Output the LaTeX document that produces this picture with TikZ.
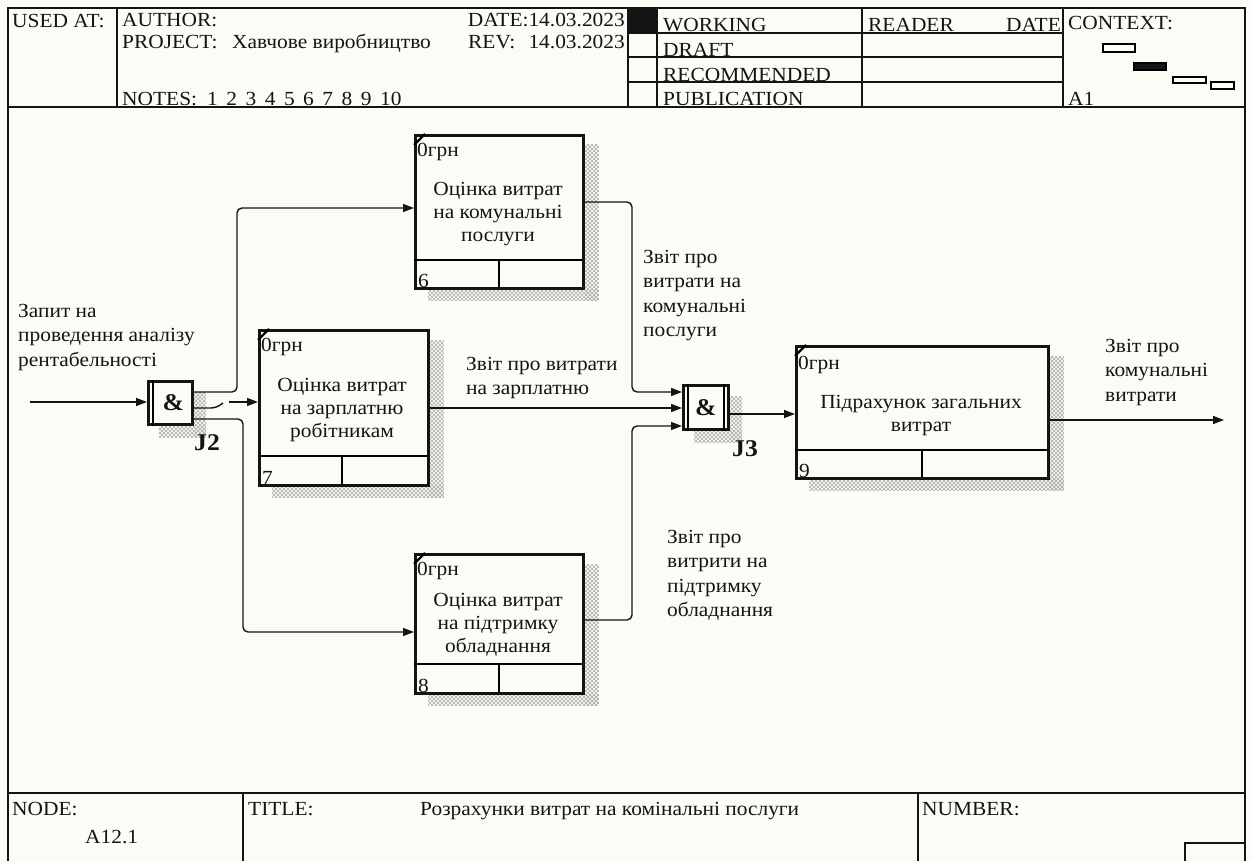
\documentclass[tikz,border=0pt]{standalone}
\usepackage{fontspec}
\setmainfont{Liberation Serif}[FakeStretch=1.07]
\usetikzlibrary{arrows.meta,patterns,calc}
\definecolor{bg}{RGB}{253,251,245}
\definecolor{ink}{RGB}{20,20,20}
\pgfdeclarepatternformonly{idefhatch}{\pgfpoint{-0.5pt}{-0.5pt}}{\pgfpoint{4.5pt}{4.5pt}}{\pgfpoint{4pt}{4pt}}{%
  \pgfsetlinewidth{0.7pt}%
  \pgfpathmoveto{\pgfpoint{0pt}{0pt}}\pgfpathlineto{\pgfpoint{4pt}{4pt}}%
  \pgfpathmoveto{\pgfpoint{0pt}{4pt}}\pgfpathlineto{\pgfpoint{4pt}{0pt}}%
  \pgfusepath{stroke}}
\newcommand\hatchshadow[3]{%
  \fill[hatch] ($(#1.north east)+(0,#3)$) rectangle ($(#1.south east)+(#2,#3)$);
  \fill[hatch] ($(#1.south west)+(#2,0)$) rectangle ($(#1.south east)+(#2,#3)$);}
\begin{document}
\begin{tikzpicture}[x=1pt,y=-1pt,
  every node/.style={font=\fontsize{20}{23}\selectfont, inner sep=0pt, text=ink},
  frame/.style={line width=1.5pt, draw=ink},
  abox/.style={draw=ink, line width=2.8pt, fill=bg, anchor=north west, inner sep=0pt},
  flow/.style={line width=1.4pt, draw=ink, rounded corners=5pt, -{Triangle[length=11pt,width=8pt]}},
  wire/.style={line width=1.4pt, draw=ink, rounded corners=5pt},
  hatch/.style={pattern=idefhatch, pattern color=gray!60},
  boxtext/.style={align=center, font=\fontsize{20}{23}\selectfont},
  lbl/.style={align=left, anchor=north west, font=\fontsize{20}{24.5}\selectfont},
  cost/.style={anchor=west},
  num/.style={anchor=base west},
  jbox/.style={draw=ink, line width=2.8pt, fill=bg, anchor=north west, inner sep=0pt, font=\fontsize{24}{24}\selectfont\bfseries},
  jlbl/.style={font=\fontsize{24}{24}\selectfont\bfseries},
  htext/.style={anchor=base west},
]
\fill[bg] (0,0) rectangle (1252,861);
\useasboundingbox (0,0) rectangle (1252,861);

% ---------- outer frame and header ----------
\draw[frame] (8,861) -- (8,8) -- (1245,8) -- (1245,861);
\draw[frame] (8,107) -- (1245,107);
\draw[frame] (117,8) -- (117,107);
\draw[frame] (628,8) -- (628,107);
\draw[frame] (657,8) -- (657,107);
\draw[frame] (862,8) -- (862,107);
\draw[frame] (1063,8) -- (1063,107);
\draw[frame] (628,33) -- (1063,33);
\draw[frame] (628,57) -- (1063,57);
\draw[frame] (628,82) -- (1063,82);
\fill[ink] (628,8) rectangle (657,33);

\node[htext] (usedat) at (12,28) {USED AT:};
\node[htext] (author) at (122,27) {AUTHOR:};
\node[htext] (project) at (122,49) {PROJECT:};
\node[htext] (projname) at (232,49) {Хавчове виробництво};
\node[htext] (notes) at (122,106) {NOTES:};
\foreach \d [count=\i from 0] in {1,2,3,4,5,6,7,8,9}{
  \node[htext] (note\d) at (207+19.2*\i,106) {\d};
}
\node[htext] (note10) at (380,106) {10};
\node[anchor=base east] (date) at (625,27) {DATE:14.03.2023};
\node[htext] (rev) at (468,49) {REV:};
\node[anchor=base east] (revdate) at (625,49) {14.03.2023};
\node[htext] (working) at (663,32) {WORKING};
\node[htext] (draft) at (663,57) {DRAFT};
\node[htext] (recom) at (663,82) {RECOMMENDED};
\node[htext] (publ) at (663,106) {PUBLICATION};
\node[htext] (reader) at (868,32) {READER};
\node[anchor=base east] (rdate) at (1061,32) {DATE};
\node[htext] (context) at (1068,30) {CONTEXT:};
\node[htext] (ctxa) at (1068,106) {A1};
\draw[line width=1.2pt, fill=white] (1103,44) rectangle (1135,52);
\draw[line width=1.2pt, fill=ink] (1134,63) rectangle (1166,70);
\draw[line width=1.2pt, fill=white] (1173,77) rectangle (1206,83);
\draw[line width=1.2pt, fill=white] (1211,82) rectangle (1234,89);

% ---------- footer ----------
\draw[frame] (8,793) -- (1245,793);
\draw[frame] (243,793) -- (243,861);
\draw[frame] (918,793) -- (918,861);
\draw[frame] (1185,861) -- (1185,843) -- (1245,843);
\node[htext] (nodelbl) at (12,815) {NODE:};
\node[htext] (nodeval) at (85,843) {A12.1};
\node[htext] (titlelbl) at (248,815) {TITLE:};
\node[htext] (titleval) at (420,815) {Розрахунки витрат на комінальні послуги};
\node[htext] (numlbl) at (922,815) {NUMBER:};

% ---------- activity boxes ----------
\coordinate (b6pos) at (414,134);
\coordinate (b7pos) at (258,329);
\coordinate (b8pos) at (414,553);
\coordinate (b9pos) at (795,345);

\path (b6pos) node[abox, minimum width=168pt, minimum height=153pt, fill=none, draw=none] (b6) {};
\path (b7pos) node[abox, minimum width=169pt, minimum height=155pt, fill=none, draw=none] (b7) {};
\path (b8pos) node[abox, minimum width=168pt, minimum height=139pt, fill=none, draw=none] (b8) {};
\path (b9pos) node[abox, minimum width=252pt, minimum height=132pt, fill=none, draw=none] (b9) {};
\path (147,380) node[jbox, minimum width=44pt, minimum height=43pt, fill=none, draw=none] (j2) {};
\path (682,384) node[jbox, minimum width=45pt, minimum height=44pt, fill=none, draw=none] (j3) {};

\hatchshadow{b6}{14}{11}
\hatchshadow{b7}{14}{11}
\hatchshadow{b8}{14}{11}
\hatchshadow{b9}{14}{11}
\hatchshadow{j2}{12}{12}
\hatchshadow{j3}{12}{12}

\path (b6pos) node[abox, minimum width=168pt, minimum height=153pt] (b6f) {};
\path (b7pos) node[abox, minimum width=169pt, minimum height=155pt] (b7f) {};
\path (b8pos) node[abox, minimum width=168pt, minimum height=139pt] (b8f) {};
\path (b9pos) node[abox, minimum width=252pt, minimum height=132pt] (b9f) {};

% dividers
\draw[line width=2.4pt] (414,260) -- (582,260) (499,260) -- (499,287);
\draw[line width=2.4pt] (258,456) -- (427,456) (342,456) -- (342,484);
\draw[line width=2.4pt] (414,664) -- (582,664) (499,664) -- (499,692);
\draw[line width=2.4pt] (795,450) -- (1047,450) (922,450) -- (922,477);
% corner marks
\foreach \b in {b6,b7,b8,b9}{
  \draw[line width=2.4pt] ($(\b.north west)+(0,11)$) -- ($(\b.north west)+(11,0)$);
}

\node[cost] (c6) at ($(b6.north west)+(3,18)$) {0грн};
\node[cost] (c7) at ($(b7.north west)+(3,18)$) {0грн};
\node[cost] (c8) at ($(b8.north west)+(3,18)$) {0грн};
\node[cost] (c9) at ($(b9.north west)+(3,20)$) {0грн};

\node[boxtext] (t6) at (498,214) {Оцінка витрат\\на комунальні\\послуги};
\node[boxtext] (t7) at (342,410) {Оцінка витрат\\на зарплатню\\робітникам};
\node[boxtext] (t8) at (498,625) {Оцінка витрат\\на підтримку\\обладнання};
\node[boxtext] (t9) at (921,416) {Підрахунок загальних\\витрат};

\node[num] (n6) at ($(b6.south west)+(4,-2)$) {6};
\node[num] (n7) at ($(b7.south west)+(4,-2)$) {7};
\node[num] (n8) at ($(b8.south west)+(4,-2)$) {8};
\node[num] (n9) at ($(b9.south west)+(4,-2)$) {9};

% ---------- junctions ----------
\path (147,380) node[jbox, minimum width=44pt, minimum height=43pt] (j2f) {\hspace*{6pt}\&};
\draw[line width=1.6pt] ($(j2.north west)+(6,0)$) -- ($(j2.south west)+(6,0)$);
\path (682,384) node[jbox, minimum width=45pt, minimum height=44pt] (j3f) {\&};
\draw[line width=1.6pt] ($(j3.north west)+(6,0)$) -- ($(j3.south west)+(6,0)$);
\draw[line width=1.6pt] ($(j3.north east)+(-6,0)$) -- ($(j3.south east)+(-6,0)$);
\node[jlbl] (j2l) at (207,443) {J2};
\node[jlbl] (j3l) at (745,449) {J3};

% ---------- connectors ----------
\coordinate (in) at (30,402);
\coordinate (out) at (1224,420);
\draw[flow] (in) -- (j2.west |- in);
\draw[flow] (j2.east |- 0,392) -- (237,392) -- (237,208) -- (b6.west |- 0,208);
\draw[wire] (j2.east |- 0,408) -- (216,408) -- (223,403);
\draw[flow] (229,402) -- (b7.west |- 0,402);
\draw[flow] (j2.east |- 0,419) -- (243,419) -- (243,632) -- (b8.west |- 0,632);
\draw[flow] (b6.east |- 0,202) -- (632,202) -- (632,392) -- (j3.west |- 0,392);
\draw[flow] (b7.east |- 0,408) -- (j3.west |- 0,408);
\draw[flow] (b8.east |- 0,620) -- (632,620) -- (632,426) -- (j3.west |- 0,426);
\draw[flow] (j3.east |- 0,414) -- (b9.west |- 0,414);
\draw[flow] (b9.east |- 0,420) -- (out);

% ---------- arrow labels ----------
\node[lbl] (linput) at (18,304) {Запит на\\проведення аналізу\\рентабельності};
\node[lbl] (l6) at (643,250) {Звіт про\\витрати на\\комунальні\\послуги};
\node[lbl] (l7) at (466,357) {Звіт про витрати\\на зарплатню};
\node[lbl] (l8) at (667,530) {Звіт про\\витрити на\\підтримку\\обладнання};
\node[lbl] (l9) at (1105,339) {Звіт про\\комунальні\\витрати};
\end{tikzpicture}
\end{document}
